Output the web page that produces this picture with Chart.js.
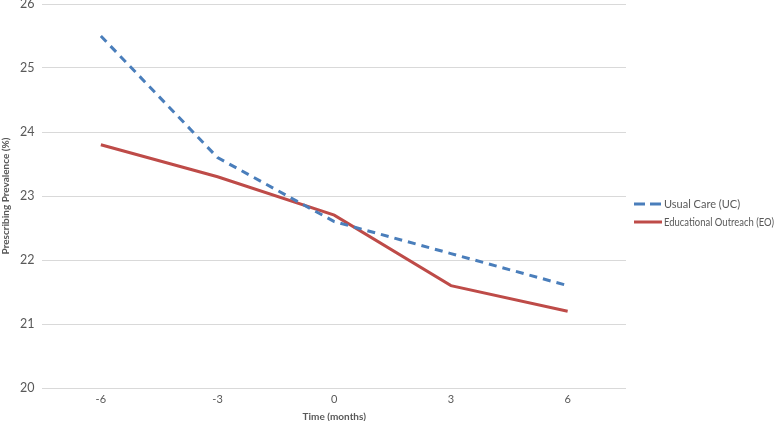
<!DOCTYPE html>
<html>
<head>
<meta charset="utf-8">
<script src="https://cdn.jsdelivr.net/npm/chart.js@4/dist/chart.umd.min.js"></script>
<style>
  html, body { margin: 0; padding: 0; background: #fff; }
  #wrap { width: 778px; height: 421px; }
</style>
</head>
<body>
<div id="wrap"><canvas id="prevChart"></canvas></div>
<script>
// data
const months = ['-6', '-3', '0', '3', '6'];
const usualCare = [25.5, 23.6, 22.6, 22.1, 21.6];
const outreach = [23.8, 23.3, 22.7, 21.6, 21.2];
const seriesNames = ['Usual Care (UC)', 'Educational Outreach (EO)'];

const textColor = '#595959';
const fontFamily = 'Lato, "Open Sans", sans-serif';

// simple legend on the right, drawn by hand so it sits where the original does
const sideLegend = {
    id: 'sideLegend',
    afterDraw(chart) {
        const ctx = chart.ctx;
        const x0 = 634;
        let y = 204;
        ctx.save();
        chart.data.datasets.forEach(ds => {
            ctx.strokeStyle = ds.borderColor;
            ctx.lineWidth = ds.borderWidth;
            ctx.setLineDash(ds.borderDash ? [11, 5] : []);
            ctx.beginPath();
            ctx.moveTo(x0, y);
            ctx.lineTo(x0 + 28, y);
            ctx.stroke();
            ctx.setLineDash([]);
            ctx.fillStyle = textColor;
            ctx.font = '11px ' + fontFamily;
            ctx.textBaseline = 'middle';
            ctx.fillText(ds.label, x0 + 30, y, 110);
            y += 18;
        });
        ctx.restore();
    }
};

new Chart(document.getElementById('prevChart'), {
    type: 'line',
    data: {
        labels: months,
        datasets: [{
            label: seriesNames[0],
            data: usualCare,
            borderColor: '#4a7ebb',
            borderWidth: 3,
            borderDash: [8, 6],
            pointRadius: 0,
            tension: 0,
            fill: false
        }, {
            label: seriesNames[1],
            data: outreach,
            borderColor: '#be4b48',
            borderWidth: 3,
            pointRadius: 0,
            tension: 0,
            fill: false
        }]
    },
    options: {
        responsive: true,
        maintainAspectRatio: false,
        animation: false,
        layout: { padding: { top: 4, right: 152, left: 0, bottom: 0 } },
        plugins: {
            legend: { display: false },
            tooltip: { enabled: false }
        },
        scales: {
            x: {
                offset: true,
                grid: { display: false, drawTicks: false },
                border: { display: false },
                ticks: { color: textColor, font: { family: fontFamily, size: 11 }, padding: 5 },
                title: {
                    display: true,
                    text: 'Time (months)',
                    color: textColor,
                    font: { family: fontFamily, size: 10, weight: 'bold' },
                    padding: { top: 0, bottom: -2 }
                },
                afterFit(scale) { scale.height = 33; }
            },
            y: {
                min: 20,
                max: 26,
                ticks: { stepSize: 1, color: textColor, font: { family: fontFamily, size: 12.5 }, padding: 8 },
                grid: { color: '#d9d9d9', drawTicks: false },
                border: { display: false },
                title: {
                    display: true,
                    text: 'Prescribing Prevalence (%)',
                    color: textColor,
                    font: { family: fontFamily, size: 10, weight: 'bold' },
                    padding: { top: 0, bottom: 0 }
                },
                afterFit(scale) { scale.paddingTop = 0; scale.paddingBottom = 0; }
            }
        }
    },
    plugins: [sideLegend]
});
</script>
</body>
</html>
